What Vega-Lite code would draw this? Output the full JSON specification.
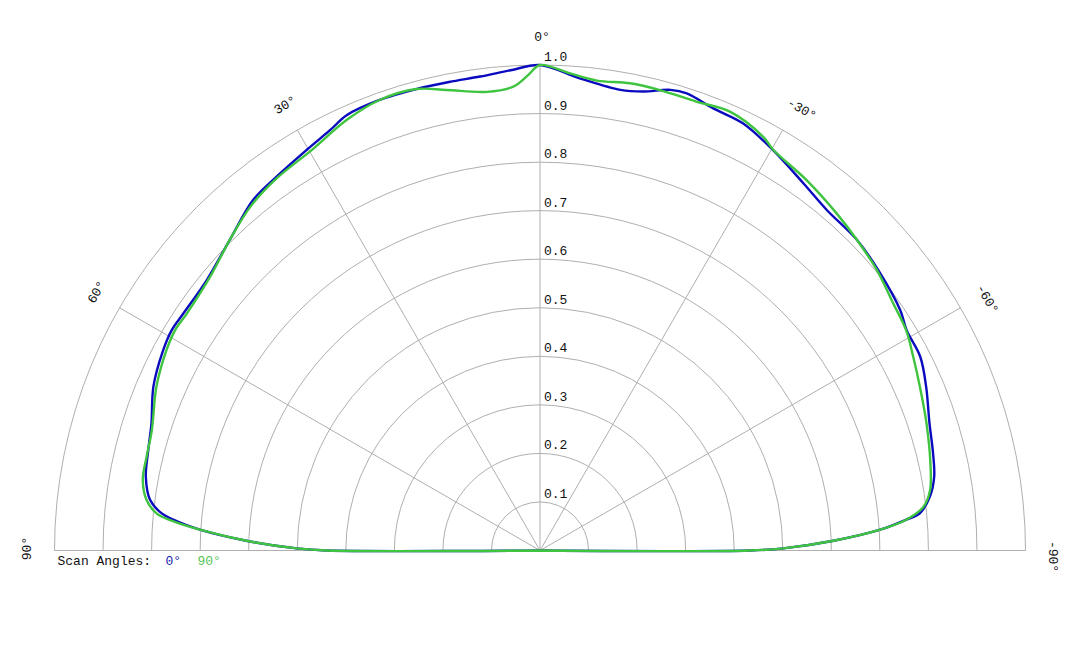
{
  "$schema": "https://vega.github.io/schema/vega-lite/v6.json",
  "width": 971,
  "height": 485.5,
  "autosize": {"type": "none"},
  "padding": {"left": 54.5, "top": 65, "right": 54.5, "bottom": 97.5},
  "background": "white",
  "config": {"view": {"stroke": null}},
  "datasets": {
    "rings": [{"r": 0.1}, {"r": 0.2}, {"r": 0.3}, {"r": 0.4}, {"r": 0.5}, {"r": 0.6}, {"r": 0.7}, {"r": 0.8}, {"r": 0.9}, {"r": 1.0}],
    "spokes": [{"a": -60}, {"a": -30}, {"a": 0}, {"a": 30}, {"a": 60}],
    "anglesPos": [{"a": 0, "t": "0°"}, {"a": 30, "t": "30°"}, {"a": 60, "t": "60°"}, {"a": 90, "t": "90°"}],
    "anglesNeg": [{"a": -30, "t": "-30°"}, {"a": -60, "t": "-60°"}, {"a": -90, "t": "-90°"}],
    "curves": [
      {"s": "0°", "i": 0, "a": -90, "r": 0},
      {"s": "0°", "i": 1, "a": -90, "r": 0.433},
      {"s": "0°", "i": 2, "a": -89.5, "r": 0.501},
      {"s": "0°", "i": 3, "a": -88.1, "r": 0.605},
      {"s": "0°", "i": 4, "a": -86.5, "r": 0.702},
      {"s": "0°", "i": 5, "a": -85.2, "r": 0.756},
      {"s": "0°", "i": 6, "a": -84.4, "r": 0.786},
      {"s": "0°", "i": 7, "a": -82.1, "r": 0.811},
      {"s": "0°", "i": 8, "a": -79.4, "r": 0.826},
      {"s": "0°", "i": 9, "a": -76.1, "r": 0.834},
      {"s": "0°", "i": 10, "a": -71.9, "r": 0.844},
      {"s": "0°", "i": 11, "a": -67, "r": 0.864},
      {"s": "0°", "i": 12, "a": -63, "r": 0.879},
      {"s": "0°", "i": 13, "a": -59, "r": 0.881},
      {"s": "0°", "i": 14, "a": -56.3, "r": 0.892},
      {"s": "0°", "i": 15, "a": -50.8, "r": 0.904},
      {"s": "0°", "i": 16, "a": -45.6, "r": 0.914},
      {"s": "0°", "i": 17, "a": -40.1, "r": 0.917},
      {"s": "0°", "i": 18, "a": -35.6, "r": 0.931},
      {"s": "0°", "i": 19, "a": -30, "r": 0.955},
      {"s": "0°", "i": 20, "a": -25.4, "r": 0.974},
      {"s": "0°", "i": 21, "a": -21.4, "r": 0.978},
      {"s": "0°", "i": 22, "a": -17.8, "r": 0.989},
      {"s": "0°", "i": 23, "a": -15.8, "r": 0.986},
      {"s": "0°", "i": 24, "a": -12.7, "r": 0.969},
      {"s": "0°", "i": 25, "a": -9.9, "r": 0.963},
      {"s": "0°", "i": 26, "a": -4.8, "r": 0.976},
      {"s": "0°", "i": 27, "a": 0, "r": 1.0},
      {"s": "0°", "i": 28, "a": 3.5, "r": 0.991},
      {"s": "0°", "i": 29, "a": 7.2, "r": 0.984},
      {"s": "0°", "i": 30, "a": 11, "r": 0.983},
      {"s": "0°", "i": 31, "a": 15, "r": 0.984},
      {"s": "0°", "i": 32, "a": 19.6, "r": 0.985},
      {"s": "0°", "i": 33, "a": 23.9, "r": 0.981},
      {"s": "0°", "i": 34, "a": 26.5, "r": 0.968},
      {"s": "0°", "i": 35, "a": 30.2, "r": 0.955},
      {"s": "0°", "i": 36, "a": 35.2, "r": 0.942},
      {"s": "0°", "i": 37, "a": 39.3, "r": 0.933},
      {"s": "0°", "i": 38, "a": 45, "r": 0.904},
      {"s": "0°", "i": 39, "a": 50.9, "r": 0.884},
      {"s": "0°", "i": 40, "a": 56.4, "r": 0.882},
      {"s": "0°", "i": 41, "a": 59.1, "r": 0.884},
      {"s": "0°", "i": 42, "a": 62, "r": 0.879},
      {"s": "0°", "i": 43, "a": 67, "r": 0.865},
      {"s": "0°", "i": 44, "a": 71.9, "r": 0.842},
      {"s": "0°", "i": 45, "a": 75.6, "r": 0.833},
      {"s": "0°", "i": 46, "a": 79.4, "r": 0.826},
      {"s": "0°", "i": 47, "a": 82.6, "r": 0.81},
      {"s": "0°", "i": 48, "a": 84.2, "r": 0.787},
      {"s": "0°", "i": 49, "a": 85.2, "r": 0.758},
      {"s": "0°", "i": 50, "a": 86.5, "r": 0.702},
      {"s": "0°", "i": 51, "a": 88.1, "r": 0.605},
      {"s": "0°", "i": 52, "a": 89.5, "r": 0.501},
      {"s": "0°", "i": 53, "a": 90, "r": 0.439},
      {"s": "0°", "i": 54, "a": 90, "r": 0},
      {"s": "90°", "i": 0, "a": -90, "r": 0},
      {"s": "90°", "i": 1, "a": -90, "r": 0.433},
      {"s": "90°", "i": 2, "a": -89.5, "r": 0.501},
      {"s": "90°", "i": 3, "a": -88.1, "r": 0.605},
      {"s": "90°", "i": 4, "a": -86.5, "r": 0.702},
      {"s": "90°", "i": 5, "a": -85.2, "r": 0.757},
      {"s": "90°", "i": 6, "a": -83.5, "r": 0.795},
      {"s": "90°", "i": 7, "a": -81.2, "r": 0.813},
      {"s": "90°", "i": 8, "a": -77.4, "r": 0.824},
      {"s": "90°", "i": 9, "a": -71.8, "r": 0.838},
      {"s": "90°", "i": 10, "a": -66.7, "r": 0.852},
      {"s": "90°", "i": 11, "a": -62.6, "r": 0.866},
      {"s": "90°", "i": 12, "a": -59, "r": 0.88},
      {"s": "90°", "i": 13, "a": -55, "r": 0.888},
      {"s": "90°", "i": 14, "a": -50.2, "r": 0.903},
      {"s": "90°", "i": 15, "a": -45.6, "r": 0.914},
      {"s": "90°", "i": 16, "a": -41.3, "r": 0.925},
      {"s": "90°", "i": 17, "a": -35.7, "r": 0.94},
      {"s": "90°", "i": 18, "a": -30.2, "r": 0.955},
      {"s": "90°", "i": 19, "a": -28.4, "r": 0.968},
      {"s": "90°", "i": 20, "a": -23.4, "r": 0.985},
      {"s": "90°", "i": 21, "a": -19.2, "r": 0.979},
      {"s": "90°", "i": 22, "a": -14.6, "r": 0.98},
      {"s": "90°", "i": 23, "a": -10.9, "r": 0.98},
      {"s": "90°", "i": 24, "a": -6.9, "r": 0.975},
      {"s": "90°", "i": 25, "a": -3.5, "r": 0.985},
      {"s": "90°", "i": 26, "a": 0, "r": 1.0},
      {"s": "90°", "i": 27, "a": 1.4, "r": 0.98},
      {"s": "90°", "i": 28, "a": 3.3, "r": 0.957},
      {"s": "90°", "i": 29, "a": 6.6, "r": 0.951},
      {"s": "90°", "i": 30, "a": 11.5, "r": 0.968},
      {"s": "90°", "i": 31, "a": 15, "r": 0.984},
      {"s": "90°", "i": 32, "a": 19.6, "r": 0.985},
      {"s": "90°", "i": 33, "a": 24.2, "r": 0.972},
      {"s": "90°", "i": 34, "a": 29.5, "r": 0.95},
      {"s": "90°", "i": 35, "a": 35.3, "r": 0.939},
      {"s": "90°", "i": 36, "a": 40.1, "r": 0.926},
      {"s": "90°", "i": 37, "a": 45, "r": 0.904},
      {"s": "90°", "i": 38, "a": 50.3, "r": 0.883},
      {"s": "90°", "i": 39, "a": 56.1, "r": 0.876},
      {"s": "90°", "i": 40, "a": 58.9, "r": 0.878},
      {"s": "90°", "i": 41, "a": 61.8, "r": 0.873},
      {"s": "90°", "i": 42, "a": 66.9, "r": 0.859},
      {"s": "90°", "i": 43, "a": 72.8, "r": 0.837},
      {"s": "90°", "i": 44, "a": 76.6, "r": 0.833},
      {"s": "90°", "i": 45, "a": 79.9, "r": 0.831},
      {"s": "90°", "i": 46, "a": 82.7, "r": 0.817},
      {"s": "90°", "i": 47, "a": 84.5, "r": 0.793},
      {"s": "90°", "i": 48, "a": 85.4, "r": 0.76},
      {"s": "90°", "i": 49, "a": 86.5, "r": 0.702},
      {"s": "90°", "i": 50, "a": 88.1, "r": 0.605},
      {"s": "90°", "i": 51, "a": 89.5, "r": 0.501},
      {"s": "90°", "i": 52, "a": 90, "r": 0.439},
      {"s": "90°", "i": 53, "a": 90, "r": 0}
    ]
  },
  "layer": [
    {
      "data": {"name": "rings"},
      "mark": {"type": "arc", "theta": -1.5707963, "theta2": 1.5707963, "filled": false, "fill": null, "stroke": "#afafaf", "strokeWidth": 1},
      "encoding": {
        "x": {"datum": 0, "type": "quantitative", "scale": {"domain": [-1, 1], "nice": false, "zero": false}, "axis": null},
        "y": {"datum": 0, "type": "quantitative", "scale": {"domain": [0, 1], "nice": false, "zero": false}, "axis": null},
        "radius": {"field": "r", "type": "quantitative", "stack": null, "scale": {"type": "linear", "domain": [0, 1], "range": [0, {"expr": "width/2"}], "zero": true}}
      }
    },
    {
      "data": {"name": "spokes"},
      "transform": [
        {"calculate": "-sin(datum.a*PI/180)", "as": "x"},
        {"calculate": "cos(datum.a*PI/180)", "as": "y"}
      ],
      "mark": {"type": "rule", "stroke": "#afafaf", "strokeWidth": 1},
      "encoding": {
        "x": {"field": "x", "type": "quantitative", "axis": null},
        "y": {"field": "y", "type": "quantitative", "axis": null},
        "x2": {"datum": 0},
        "y2": {"datum": 0}
      }
    },
    {
      "data": {"name": "rings"},
      "mark": {"type": "text", "align": "left", "baseline": "alphabetic", "dx": 4, "dy": -4, "font": "Liberation Mono", "fontSize": 13, "fill": "#111"},
      "encoding": {
        "x": {"datum": 0, "type": "quantitative", "axis": null},
        "y": {"field": "r", "type": "quantitative", "axis": null},
        "text": {"field": "r", "type": "quantitative", "format": ".1f"}
      }
    },
    {
      "data": {"name": "anglesPos"},
      "transform": [
        {"calculate": "-1.057*sin(datum.a*PI/180)", "as": "x"},
        {"calculate": "1.057*cos(datum.a*PI/180)", "as": "y"},
        {"calculate": "-datum.a", "as": "rot"}
      ],
      "mark": {"type": "text", "align": "center", "baseline": "middle", "dx": 2, "font": "Liberation Mono", "fontSize": 13, "fill": "#111"},
      "encoding": {
        "x": {"field": "x", "type": "quantitative", "axis": null},
        "y": {"field": "y", "type": "quantitative", "axis": null},
        "angle": {"field": "rot", "type": "quantitative", "scale": null},
        "text": {"field": "t"}
      }
    },
    {
      "data": {"name": "anglesNeg"},
      "transform": [
        {"calculate": "-1.057*sin(datum.a*PI/180)", "as": "x"},
        {"calculate": "1.057*cos(datum.a*PI/180)", "as": "y"},
        {"calculate": "-datum.a", "as": "rot"}
      ],
      "mark": {"type": "text", "align": "center", "baseline": "middle", "dx": 6, "font": "Liberation Mono", "fontSize": 13, "fill": "#111"},
      "encoding": {
        "x": {"field": "x", "type": "quantitative", "axis": null},
        "y": {"field": "y", "type": "quantitative", "axis": null},
        "angle": {"field": "rot", "type": "quantitative", "scale": null},
        "text": {"field": "t"}
      }
    },
    {
      "data": {"name": "curves"},
      "transform": [
        {"calculate": "-datum.r*sin(datum.a*PI/180)", "as": "x"},
        {"calculate": "datum.r*cos(datum.a*PI/180)", "as": "y"}
      ],
      "mark": {"type": "line", "interpolate": "catmull-rom", "strokeWidth": 2.4},
      "encoding": {
        "x": {"field": "x", "type": "quantitative", "axis": null},
        "y": {"field": "y", "type": "quantitative", "axis": null},
        "color": {"field": "s", "type": "nominal", "scale": {"domain": ["0°", "90°"], "range": ["#0a0abe", "#3ec43e"]}, "legend": null},
        "order": {"field": "i", "type": "quantitative"}
      }
    },
    {
      "data": {"values": [{"t": "Scan Angles:"}]},
      "mark": {"type": "text", "align": "left", "baseline": "middle", "dx": 3, "dy": 10, "font": "Liberation Mono", "fontSize": 13, "fill": "#111"},
      "encoding": {
        "x": {"datum": -1, "type": "quantitative", "axis": null},
        "y": {"datum": 0, "type": "quantitative", "axis": null},
        "text": {"field": "t"}
      }
    },
    {
      "data": {"values": [{"t": "0°"}]},
      "mark": {"type": "text", "align": "left", "baseline": "middle", "dx": 111, "dy": 10, "font": "Liberation Mono", "fontSize": 13, "fill": "#2222aa"},
      "encoding": {
        "x": {"datum": -1, "type": "quantitative", "axis": null},
        "y": {"datum": 0, "type": "quantitative", "axis": null},
        "text": {"field": "t"}
      }
    },
    {
      "data": {"values": [{"t": "90°"}]},
      "mark": {"type": "text", "align": "left", "baseline": "middle", "dx": 143, "dy": 10, "font": "Liberation Mono", "fontSize": 13, "fill": "#55c455"},
      "encoding": {
        "x": {"datum": -1, "type": "quantitative", "axis": null},
        "y": {"datum": 0, "type": "quantitative", "axis": null},
        "text": {"field": "t"}
      }
    }
  ]
}
